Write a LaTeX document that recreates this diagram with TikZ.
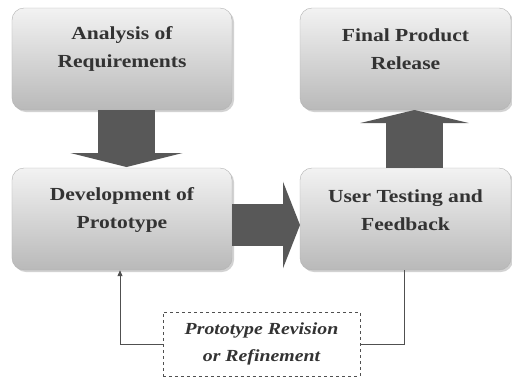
\documentclass[tikz,border=0pt]{standalone}
\usepackage{fontspec}
\setmainfont{Liberation Serif}
\newfontfamily\boxfont[FakeStretch=1.17]{Liberation Serif}
\usetikzlibrary{arrows.meta,shadows}
\definecolor{arrowgray}{HTML}{585858}
\definecolor{linegray}{HTML}{505050}
\tikzset{
  procbox/.style={rounded corners=12bp, draw=gray!60, line width=0.4bp,
    top color=gray!10, bottom color=gray!55,
    drop shadow={shadow xshift=2bp, shadow yshift=-2bp, opacity=0.35, fill=gray},
    minimum height=102bp, inner sep=0pt},
  boxtext/.style={font=\boxfont\fontsize{18.5}{28}\selectfont\bfseries, text=black!80, align=center},
  blockarrow/.style={draw=arrowgray, fill=arrowgray},
  fbline/.style={draw=linegray, line width=0.8bp},
  fbbox/.style={draw=linegray, dashed, line width=0.8bp, fill=white,
    minimum width=197bp, minimum height=64bp, inner sep=0pt,
    font=\boxfont\fontsize{17}{27}\selectfont\bfseries\itshape, text=black!80, align=center}
}
\begin{document}
\begin{tikzpicture}[x=1bp,y=-1bp]
\useasboundingbox (0,0) rectangle (512,378);
\fill[white] (0,0) rectangle (512,378);
% boxes
\node[procbox, minimum width=220bp] (A) at (122,59) {};
\node[procbox, minimum width=211bp] (B) at (405.5,59) {};
\node[procbox, minimum width=220bp] (C) at (122,219) {};
\node[procbox, minimum width=211bp] (D) at (405.5,219) {};
\node[boxtext] (At) at (122,49) {Analysis of\\Requirements};
\node[boxtext] (Bt) at (405.5,49) {Final Product\\Release};
\node[boxtext] (Ct) at (122,210) {Development of\\Prototype};
\node[boxtext] (Dt) at (405.5,210) {User Testing and\\Feedback};
% block arrows
\coordinate (a1) at (126.5,110);
\coordinate (a2) at (126.5,167);
\draw[blockarrow, line width=57bp, -{Triangle[width=112bp,length=14bp]}] (a1) -- (a2);
\coordinate (u1) at (414.5,168);
\coordinate (u2) at (414.5,110);
\draw[blockarrow, line width=57bp, -{Triangle[width=108bp,length=13bp]}] (u1) -- (u2);
\coordinate (r1) at (232,225);
\coordinate (r2) at (300,225);
\draw[blockarrow, line width=42bp, -{Triangle[width=86bp,length=17bp]}] (r1) -- (r2);
% feedback loop
\node[fbbox] (F) at (261.5,344) {Prototype Revision\\or Refinement};
\draw[fbline] ([xshift=-1.5bp]D.south) |- (F.east);
\draw[fbline, -{Triangle[width=5bp,length=6bp]}] (F.west) -| ([xshift=-2bp]C.south);
\end{tikzpicture}
\end{document}
